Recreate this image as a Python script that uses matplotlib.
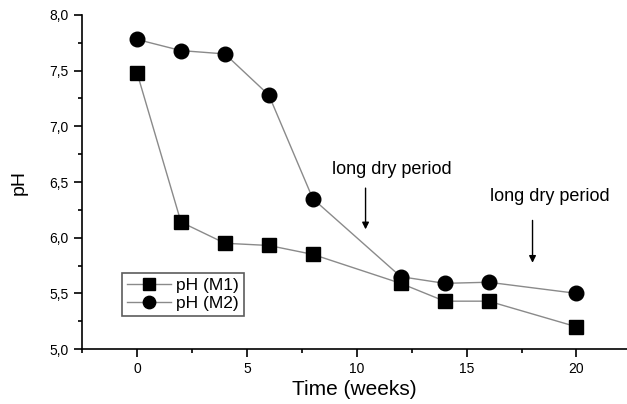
import numpy as np
import matplotlib
matplotlib.use("Agg")
import matplotlib.pyplot as plt
from matplotlib.ticker import MultipleLocator, FuncFormatter

plt.rcParams['font.family'] = ['Liberation Sans', 'DejaVu Sans']

# data
weeks = [0, 2, 4, 6, 8, 12, 14, 16, 20]
ph_m1 = [7.48, 6.14, 5.95, 5.93, 5.85, 5.59, 5.43, 5.43, 5.20]
ph_m2 = [7.78, 7.68, 7.65, 7.28, 6.35, 5.65, 5.59, 5.60, 5.50]

dry_label = "long dry period"
dry_weeks = [10.4, 18.0]

fig = plt.figure(figsize=(6.27, 4.04), dpi=100)
ax = fig.add_axes([0.131, 0.136, 0.869, 0.827])

ax.plot(weeks, ph_m1, color="#8a8a8a", lw=1, marker="s", ms=9.5,
        mfc="black", mec="black", label="pH (M1)")
ax.plot(weeks, ph_m2, color="#8a8a8a", lw=1, marker="o", ms=10.5,
        mfc="black", mec="black", label="pH (M2)")

# arrows for the dry periods
ax.annotate("", xy=(dry_weeks[0], 6.05), xytext=(dry_weeks[0], 6.47),
            arrowprops=dict(arrowstyle="-|>", color="black", lw=1, mutation_scale=10))
ax.text(11.6, 6.61, dry_label, ha="center", va="center", fontsize=13)
ax.annotate("", xy=(dry_weeks[1], 5.75), xytext=(dry_weeks[1], 6.18),
            arrowprops=dict(arrowstyle="-|>", color="black", lw=1, mutation_scale=10))
ax.text(18.77, 6.37, dry_label, ha="center", va="center", fontsize=13)

ax.set_xlim(-2.5, 22.3)
ax.set_ylim(5.0, 8.0)
ax.xaxis.set_major_locator(MultipleLocator(5))
ax.xaxis.set_minor_locator(MultipleLocator(2.5))
ax.yaxis.set_major_locator(MultipleLocator(0.5))
ax.yaxis.set_minor_locator(MultipleLocator(0.25))
ax.yaxis.set_major_formatter(FuncFormatter(lambda v, p: f"{v:.1f}".replace(".", ",")))

ax.spines["top"].set_visible(False)
ax.spines["right"].set_visible(False)
ax.spines["left"].set_linewidth(1.2)
ax.spines["bottom"].set_linewidth(1.2)
ax.tick_params(which="major", direction="out", length=6, width=1.2, labelsize=10)
ax.tick_params(which="minor", direction="out", length=3, width=1.2)

ax.set_xlabel("Time (weeks)", fontsize=15, labelpad=3)
ax.set_ylabel("pH", fontsize=14, labelpad=16)

leg = ax.legend(loc="lower left", bbox_to_anchor=(0.073, 0.099), fontsize=12.5,
                frameon=True, fancybox=False, edgecolor="#333333",
                handlelength=2.5, borderpad=0.3, labelspacing=0.15,
                handletextpad=0.3, borderaxespad=0, markerscale=0.85)
leg.get_frame().set_linewidth(1.2)

fig.savefig("out.png", dpi=100)
